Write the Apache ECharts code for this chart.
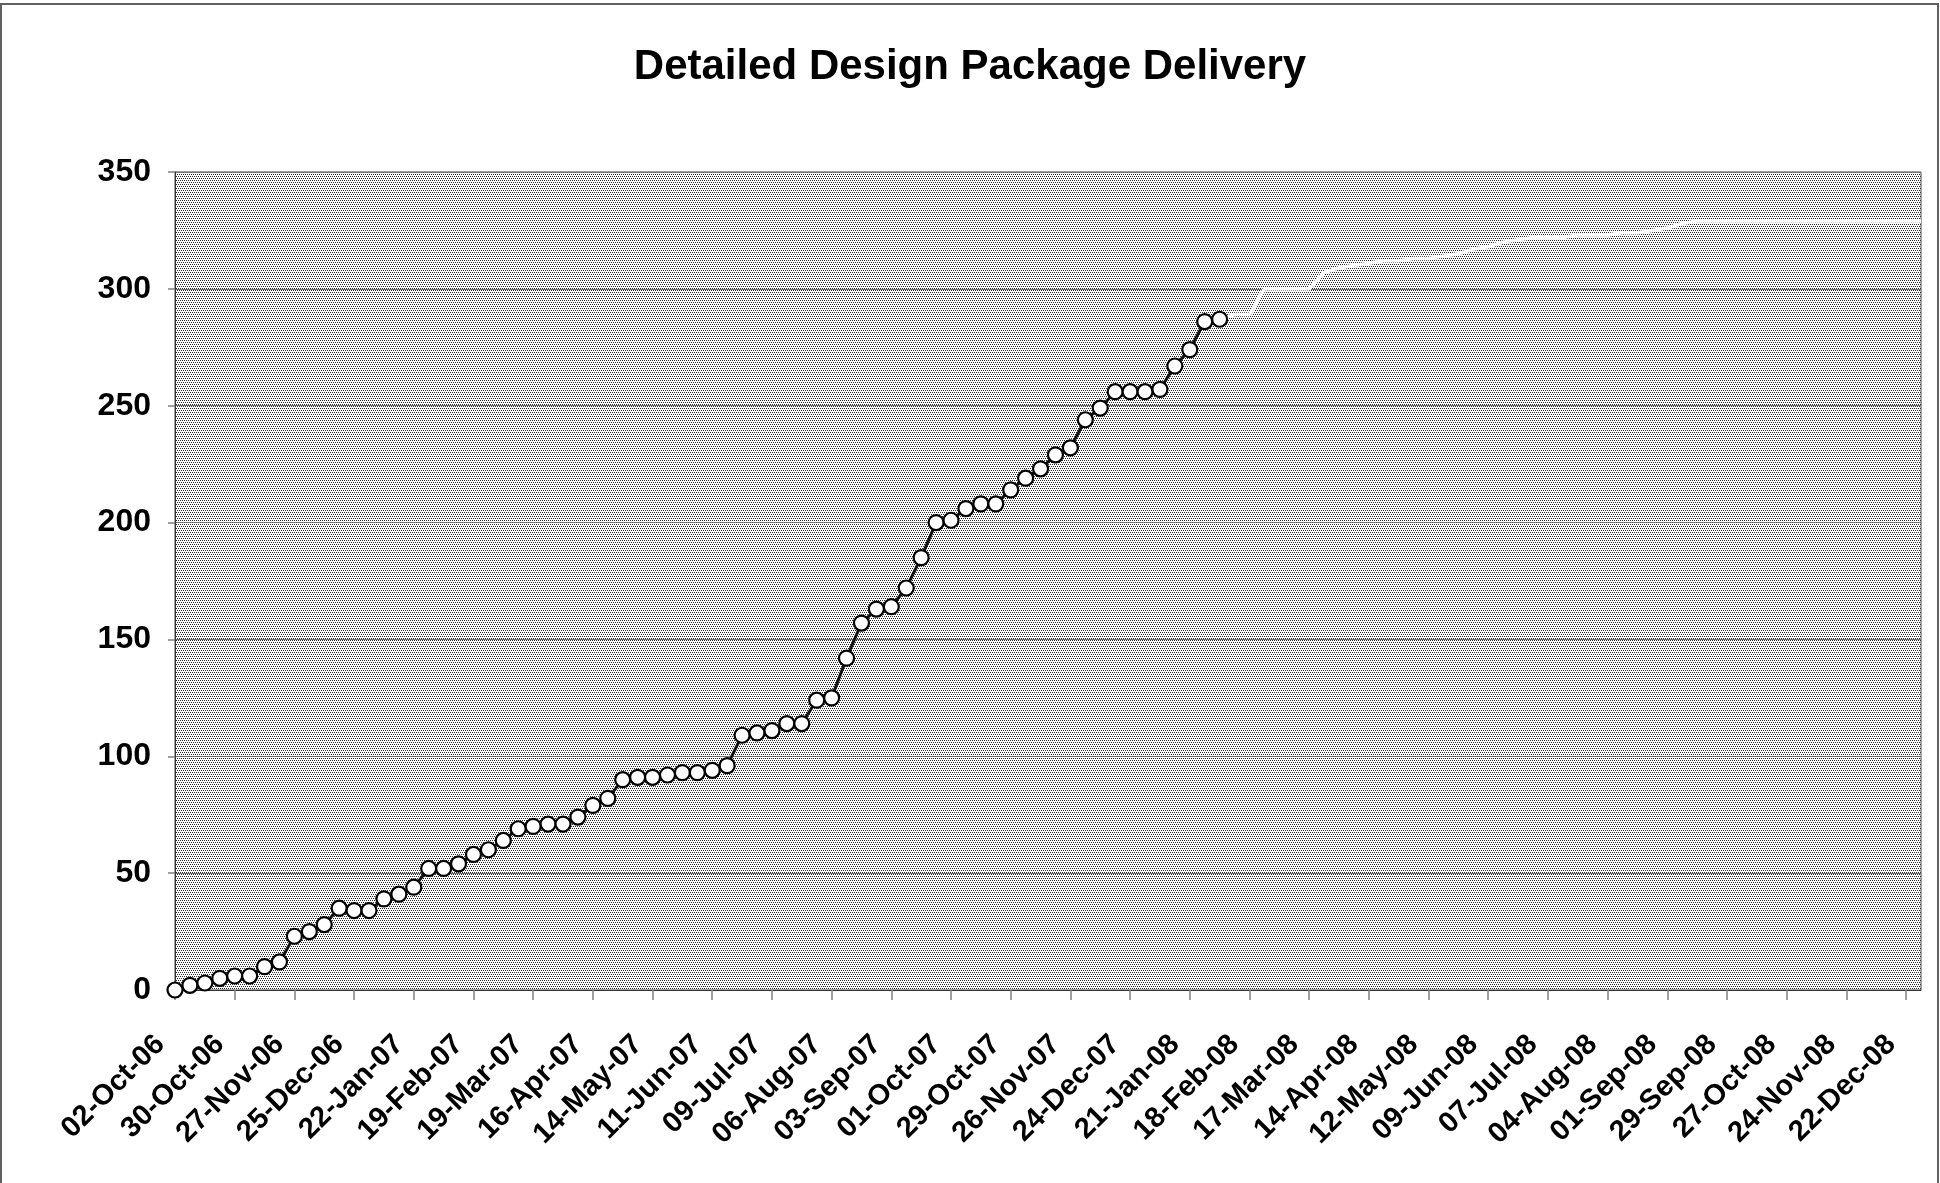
<!DOCTYPE html>
<html>
<head>
<meta charset="utf-8">
<title>Detailed Design Package Delivery</title>
<script src="https://cdn.jsdelivr.net/npm/echarts@6/dist/echarts.min.js"></script>
<style>
  html, body { margin: 0; padding: 0; background: #fff; }
  #chart { width: 1940px; height: 1183px; }
</style>
</head>
<body>
<div id="chart"></div>
<script>
// weekly reporting dates start on this Monday
const startYear = 2006, startMonth = 9, startDay = 2;
const weekCount = 118;

// cumulative packages delivered, one value per week from 02-Oct-06
const actualDelivered = [
  0, 2, 3, 5, 6, 6, 10, 12, 23, 25,
  28, 35, 34, 34, 39, 41, 44, 52, 52, 54,
  58, 60, 64, 69, 70, 71, 71, 74, 79, 82,
  90, 91, 91, 92, 93, 93, 94, 96, 109, 110,
  111, 114, 114, 124, 125, 142, 157, 163, 164, 172,
  185, 200, 201, 206, 208, 208, 214, 219, 223, 229,
  232, 244, 249, 256, 256, 256, 257, 267, 274, 286,
  287
];

// forecast, starting at the last actual week (index 70)
const forecastFrom = 70;
const forecastDelivered = [
  287, 289, 289, 300, 300, 300, 300, 307, 309, 310,
  311, 312, 312, 313, 313, 314, 315, 317, 318, 320,
  321, 322, 322, 322, 323, 323, 323, 324, 324, 325,
  326, 328, 329, 329, 329, 329, 329, 329, 329, 329,
  329, 329, 329, 329, 329, 329, 329, 329
];

const yTicks = [0, 50, 100, 150, 200, 250, 300, 350];

const monthNames = ["Jan", "Feb", "Mar", "Apr", "May", "Jun",
                    "Jul", "Aug", "Sep", "Oct", "Nov", "Dec"];

function fmtDate(d) {
  const dd = String(d.getUTCDate()).padStart(2, "0");
  const yy = String(d.getUTCFullYear() % 100).padStart(2, "0");
  return dd + "-" + monthNames[d.getUTCMonth()] + "-" + yy;
}

const weeks = [];
for (let i = 0; i < weekCount; i++) {
  weeks.push(fmtDate(new Date(Date.UTC(startYear, startMonth, startDay + i * 7))));
}

const forecastSeries = new Array(forecastFrom).fill(null).concat(forecastDelivered);

// stippled plot-area fill (25% dark dots)
function dotTile() {
  const c = document.createElement("canvas");
  c.width = 4;
  c.height = 4;
  const ctx = c.getContext("2d");
  ctx.fillStyle = "#ffffff";
  ctx.fillRect(0, 0, 4, 4);
  ctx.fillStyle = "#2a2a2a";
  ctx.fillRect(0, 0, 1, 1);
  ctx.fillRect(2, 0, 1, 1);
  ctx.fillRect(1, 2, 1, 1);
  ctx.fillRect(3, 2, 1, 1);
  return c;
}

const font = "'Liberation Sans', Arial, sans-serif";
const chart = echarts.init(document.getElementById("chart"), null, { renderer: "canvas" });

const option = {
  animation: false,
  backgroundColor: "#ffffff",
  title: {
    text: "Detailed Design Package Delivery",
    left: "center",
    top: 41,
    textStyle: { fontFamily: font, fontSize: 42, fontWeight: "bold", color: "#000" }
  },
  graphic: [{
    type: "rect",
    shape: { x: 1, y: 4, width: 1937, height: 1200 },
    style: { fill: "none", stroke: "#606060", lineWidth: 2 },
    silent: true
  }],
  grid: {
    left: 175,
    right: 19,
    top: 172,
    bottom: 193,
    show: true,
    backgroundColor: { image: dotTile(), repeat: "repeat" },
    borderColor: "#444",
    borderWidth: 1,
    outerBoundsMode: "none"
  },
  xAxis: {
    type: "category",
    data: weeks,
    boundaryGap: false,
    axisLine: { show: true, lineStyle: { color: "#333", width: 1 } },
    axisTick: {
      show: true,
      interval: 3,
      length: 10,
      lineStyle: { color: "#808080", width: 1.5 }
    },
    axisLabel: {
      interval: 3,
      rotate: 45,
      margin: 35,
      padding: [0, 21, 0, 0],
      fontFamily: font,
      fontSize: 29,
      fontWeight: "bold",
      color: "#000"
    },
    splitLine: { show: false }
  },
  yAxis: {
    type: "value",
    min: yTicks[0],
    max: yTicks[yTicks.length - 1],
    interval: 50,
    axisLine: { show: true, lineStyle: { color: "#333", width: 1 } },
    axisTick: { show: true, length: 7, lineStyle: { color: "#808080", width: 1.5 } },
    axisLabel: {
      margin: 24,
      fontFamily: font,
      fontSize: 32,
      fontWeight: "bold",
      color: "#000"
    },
    splitLine: { show: true, lineStyle: { color: "#707070", width: 1.2 } }
  },
  series: [
    {
      name: "Forecast",
      type: "line",
      data: forecastSeries,
      symbol: "none",
      lineStyle: { color: "#ffffff", width: 3.5 },
      z: 2
    },
    {
      name: "Delivered",
      type: "line",
      data: actualDelivered,
      symbol: "circle",
      symbolSize: 15,
      showAllSymbol: true,
      lineStyle: { color: "#111", width: 3 },
      itemStyle: { color: "#ffffff", borderColor: "#000", borderWidth: 2.2 },
      z: 3
    }
  ]
};

chart.setOption(option);
</script>
</body>
</html>
